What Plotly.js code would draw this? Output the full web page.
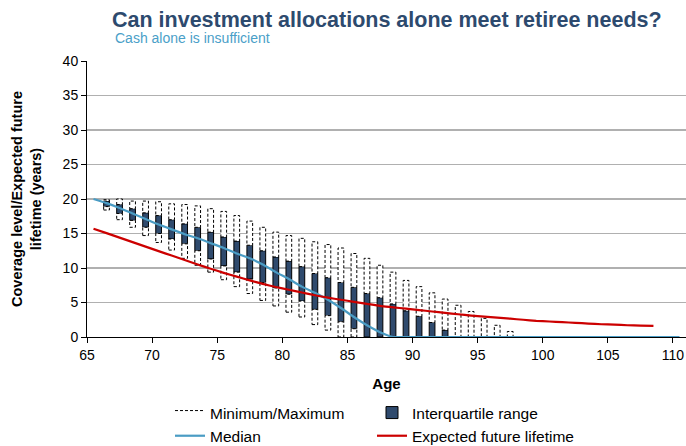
<!DOCTYPE html>
<html>
<head>
<meta charset="utf-8">
<script src="https://cdn.plot.ly/plotly-3.0.1.min.js"></script>
<style>
html, body { margin: 0; padding: 0; background: #ffffff; }
#chart { width: 686px; height: 446px; }
</style>
</head>
<body>
<div id="chart"></div>
<script>
// ---- Data ----
const boxAges = [66,67,68,69,70,71,72,73,74,75,76,77,78,79,80,81,82,83,84,85,86,87,88,89,90,91,92,93,94,95,96,97];
const maxVals = [19.9,20.0,19.7,19.7,19.6,19.3,19.2,19.0,18.6,18.2,17.6,16.8,15.9,15.2,14.7,14.3,13.8,13.4,12.9,12.1,11.4,10.4,9.4,8.2,7.3,6.4,5.5,4.6,3.7,2.7,1.7,0.8];
const q3Vals  = [19.7,19.2,18.6,18.0,17.6,17.0,16.4,15.9,15.2,14.5,13.9,13.3,12.5,11.6,11.0,10.2,9.2,8.6,7.9,7.2,6.3,5.7,4.8,3.8,3.0,2.1,1.0,0,0,0,0,0];
const q1Vals  = [18.9,17.9,16.9,15.9,15.0,14.2,13.5,12.5,11.3,10.3,9.4,8.4,7.9,7.1,6.2,5.2,4.0,3.1,2.2,1.2,0,0,0,0,0,0,0,0,0,0,0,0];
const minVals = [18.4,17.0,15.9,14.7,13.7,12.6,11.4,10.4,9.4,8.3,7.3,6.3,5.3,4.5,3.6,2.9,1.8,1.0,0,0,0,0,0,0,0,0,0,0,0,0,0,0];

const medianAges = [65,66,67,68,69,70,71,72,73,74,75,76,77,78,79,80,81,82,83,84,85,86,87,88,89,90,91,92,93,94,95,96,97,98,99,100,101,102,103,104,105,106,107,108,109,110];
const medianVals = [20.0,19.4,18.7,17.9,17.1,16.3,15.6,14.9,14.3,13.6,12.9,12.1,11.4,10.5,9.4,8.4,7.3,6.4,5.4,4.2,2.9,1.7,0.7,0,0,0,0,0,0,0,0,0,0,0,0,0,0,0,0,0,0,0,0,0,0,0];

const lifeAges = [65,66,67,68,69,70,71,72,73,74,75,76,77,78,79,80,81,82,83,84,85,86,87,88,89,90,91,92,93,94,95,96,97,98,99,100,101,102,103,104,105,106,107,108];
const lifeVals = [15.7,15.05,14.4,13.75,13.1,12.45,11.8,11.15,10.5,9.9,9.3,8.75,8.2,7.7,7.25,6.85,6.45,6.05,5.7,5.4,5.1,4.8,4.5,4.3,4.1,3.9,3.7,3.5,3.3,3.1,2.95,2.8,2.65,2.5,2.35,2.25,2.15,2.05,1.95,1.85,1.8,1.7,1.65,1.6];

const xTicks = [65,70,75,80,85,90,95,100,105,110];
const yTicks = [0,5,10,15,20,25,30,35,40];

// ---- Styling / placement constants ----
const MID = 0.5;      // each year's value is drawn at mid-year
const HALF = 0.22;    // half width of a box, in years
const FONT = 'Liberation Sans, Arial, Helvetica, sans-serif';
const L = 87, T = 61, B = 109, PW = 686 - 87, PH = 446 - 61 - 109;

// dashed min/max boxes: segment above Q3 and segment below Q1
const boxX = [], boxY = [];
function rect(xc, lo, hi) {
  boxX.push(xc - HALF, xc + HALF, xc + HALF, xc - HALF, xc - HALF, null);
  boxY.push(lo, lo, hi, hi, lo, null);
}
boxAges.forEach((a, i) => {
  const xc = a + MID;
  if (maxVals[i] > q3Vals[i]) rect(xc, q3Vals[i], maxVals[i]);
  if (q1Vals[i] > minVals[i]) rect(xc, minVals[i], q1Vals[i]);
});

// interquartile bars (only where there is a range)
const iqrX = [], iqrBase = [], iqrLen = [];
boxAges.forEach((a, i) => {
  if (q3Vals[i] > q1Vals[i]) {
    iqrX.push(a + MID);
    iqrBase.push(q1Vals[i]);
    iqrLen.push(q3Vals[i] - q1Vals[i]);
  }
});

const traces = [
  {
    type: 'scatter', mode: 'lines', name: 'Minimum/Maximum',
    x: boxX, y: boxY, fill: 'toself', fillcolor: '#ffffff',
    line: { color: '#000000', width: 1, dash: '3px,2px' },
    legend: 'legend', hoverinfo: 'skip'
  },
  {
    type: 'bar', name: 'Interquartile range',
    x: iqrX, y: iqrLen, base: iqrBase, width: 2 * HALF,
    marker: { color: '#2f4a6d', line: { color: '#000000', width: 1 } },
    legend: 'legend2'
  },
  {
    type: 'scatter', mode: 'lines', name: 'Median',
    x: medianAges.map(a => a + MID), y: medianVals,
    line: { color: '#4a9cc4', width: 2.2, shape: 'spline', smoothing: 0.5 },
    legend: 'legend'
  },
  {
    type: 'scatter', mode: 'lines', name: 'Expected future lifetime',
    x: lifeAges.map(a => a + MID), y: lifeVals,
    line: { color: '#cc0000', width: 2.2, shape: 'spline', smoothing: 0.6 },
    legend: 'legend2'
  }
];

function px2paperX(px) { return (px - L) / PW; }
function px2paperY(py) { return (446 - B - py) / PH; }

const layout = {
  width: 686, height: 446,
  margin: { l: L, r: 0, t: T, b: B, autoexpand: false },
  paper_bgcolor: '#ffffff', plot_bgcolor: '#ffffff',
  font: { family: FONT, size: 14, color: '#000000' },
  showlegend: true,
  title: {
    text: 'Can investment allocations alone meet retiree needs?',
    font: { family: FONT, size: 21.5, color: '#2d4a6e', weight: 'bold' },
    xref: 'container', x: 112 / 686, xanchor: 'left',
    yref: 'container', y: 1 - 19 / 446, yanchor: 'middle'
  },
  annotations: [{
    text: 'Cash alone is insufficient',
    xref: 'paper', yref: 'paper', x: px2paperX(113), y: px2paperY(38.5),
    xanchor: 'left', yanchor: 'middle', showarrow: false,
    font: { family: FONT, size: 14, color: '#4aa0c8' }
  }],
  xaxis: {
    range: [65, 111], tickvals: xTicks, ticktext: xTicks.map(String),
    ticks: 'outside', ticklen: 5, tickcolor: '#000000', tickwidth: 1,
    showline: true, linecolor: '#000000', linewidth: 1,
    showgrid: false, zeroline: false, automargin: false,
    tickfont: { family: FONT, size: 14, color: '#000000' },
    title: { text: 'Age', font: { family: FONT, size: 15, color: '#000000', weight: 'bold' }, standoff: 16 }
  },
  yaxis: {
    range: [0, 40], tickvals: yTicks, ticktext: yTicks.map(String),
    ticks: 'outside', ticklen: 5, tickcolor: '#000000', tickwidth: 1,
    showline: true, linecolor: '#000000', linewidth: 1,
    showgrid: true, gridcolor: '#b0b0b0', gridwidth: 1.5, zeroline: false, automargin: false,
    tickfont: { family: FONT, size: 14, color: '#000000' },
    title: { text: 'Coverage level/Expected future<br>lifetime (years)', font: { family: FONT, size: 14.5, color: '#000000', weight: 'bold' }, standoff: 17 }
  },
  legend: {
    x: px2paperX(170), xanchor: 'left', y: px2paperY(396), yanchor: 'top',
    orientation: 'v', font: { family: FONT, size: 15.5, color: '#000000' },
    bgcolor: 'rgba(0,0,0,0)', borderwidth: 0, traceorder: 'normal', tracegroupgap: 0
  },
  legend2: {
    x: px2paperX(372), xanchor: 'left', y: px2paperY(396), yanchor: 'top',
    orientation: 'v', font: { family: FONT, size: 15.5, color: '#000000' },
    bgcolor: 'rgba(0,0,0,0)', borderwidth: 0, traceorder: 'normal', tracegroupgap: 0
  },
  bargap: 0
};

Plotly.newPlot('chart', traces, layout, { displayModeBar: false, staticPlot: true });
</script>
</body>
</html>
